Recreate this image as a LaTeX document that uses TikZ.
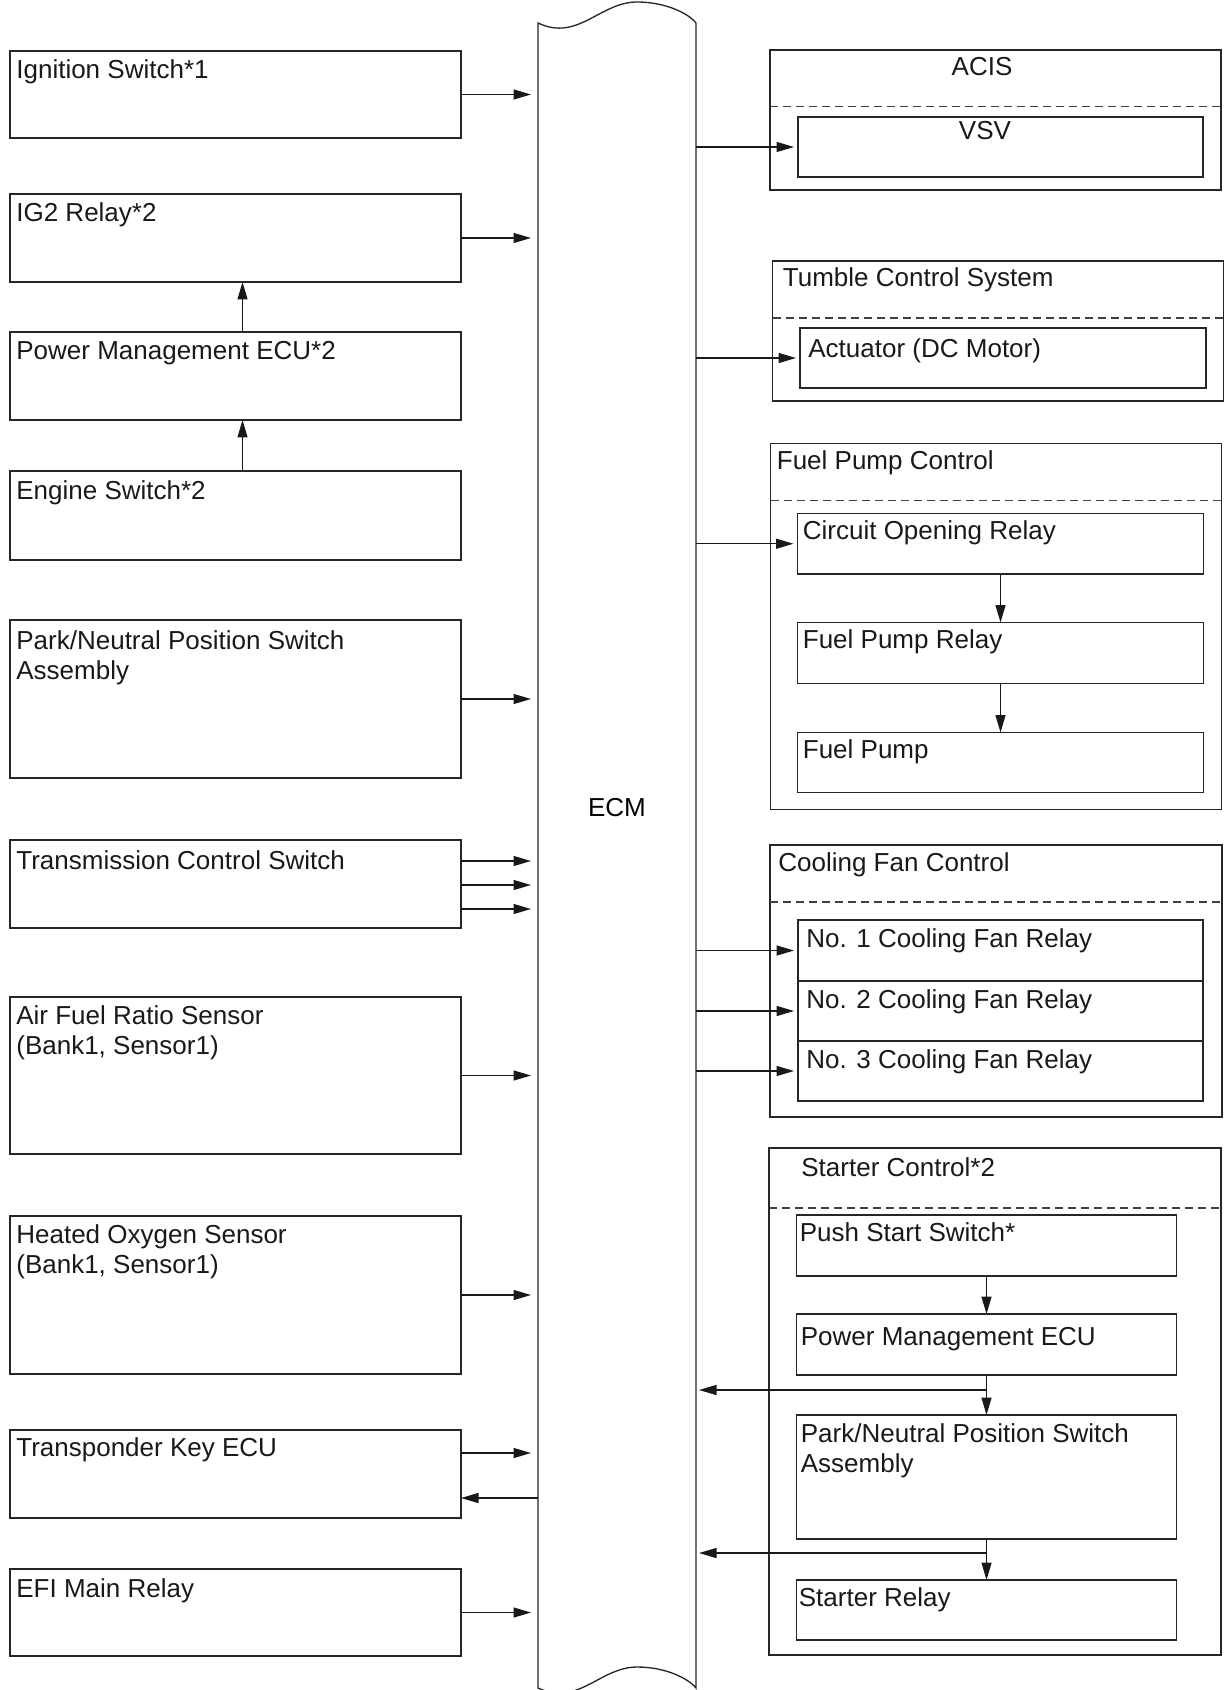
\documentclass[tikz,border=0pt]{standalone}
\usepackage{fontspec}
\setmainfont{Liberation Sans}
\usetikzlibrary{arrows.meta}

\begin{document}
\begin{tikzpicture}[x=0.2mm, y=-0.2mm,
    font=\fontsize{14.8}{17.1}\selectfont,
    block/.style 2 args={draw=black!85, line width=0.75pt, anchor=north west,
      inner sep=0pt, outer sep=0pt, minimum width=#1*0.2mm, minimum height=#2*0.2mm},
    txt/.style={anchor=north west, inner sep=0pt, align=left, text=black!90},
    sep line/.style={draw=black!75, line width=0.75pt, dash pattern=on 1.6mm off 1mm},
    sig/.style={draw=black!90, line width=0.75pt, -{Triangle[length=3.5mm, width=2mm]}}]
    \useasboundingbox (0,0) rectangle (1225,1690);

    % ECM bus
    \node[inner sep=0pt, outer sep=0pt, anchor=north west, minimum width=158*0.2mm,
      minimum height=1665*0.2mm] (ecm) at (538,23) {};
    \draw[draw=black!85, line width=0.75pt] (ecm.north west)
      .. controls (578,42) and (600,2) .. (637,2)
      .. controls (665,2) and (688,13) .. (ecm.north east) -- (ecm.south east)
      .. controls (688,1678) and (665,1667) .. (637,1667)
      .. controls (600,1667) and (578,1707) .. (ecm.south west) -- cycle;
    \node (ecm-t) at (617,808) {ECM};

    % inputs
    \node[block={451}{87}] (ign) at (10,51) {};
    \node[block={451}{88}] (ig2) at (10,194) {};
    \node[block={451}{88}] (pm) at (10,332) {};
    \node[block={451}{89}] (eng) at (10,471) {};
    \node[block={451}{158}] (pnp) at (10,620) {};
    \node[block={451}{88}] (tcs) at (10,840) {};
    \node[block={451}{157}] (afr) at (10,997) {};
    \node[block={451}{158}] (hos) at (10,1216) {};
    \node[block={451}{88}] (tke) at (10,1430) {};
    \node[block={451}{87}] (efi) at (10,1569) {};

    \node[txt] (ign-t) at ([shift={(6,8)}]ign.north west) {Ignition Switch*1};
    \node[txt] (ig2-t) at ([shift={(6,8)}]ig2.north west) {IG2 Relay*2};
    \node[txt] (pm-t) at ([shift={(6,9)}]pm.north west) {Power Management ECU*2};
    \node[txt] (eng-t) at ([shift={(6,9)}]eng.north west) {Engine Switch*2};
    \node[txt] (pnp-t) at ([shift={(6,10)}]pnp.north west) {Park/Neutral Position Switch\\Assembly};
    \node[txt] (tcs-t) at ([shift={(6,10)}]tcs.north west) {Transmission Control Switch};
    \node[txt] (afr-t) at ([shift={(6,8)}]afr.north west) {Air Fuel Ratio Sensor\\(Bank1, Sensor1)};
    \node[txt] (hos-t) at ([shift={(6,8)}]hos.north west) {Heated Oxygen Sensor\\(Bank1, Sensor1)};
    \node[txt] (tke-t) at ([shift={(6,7)}]tke.north west) {Transponder Key ECU};
    \node[txt] (efi-t) at ([shift={(6,9)}]efi.north west) {EFI Main Relay};

    % outputs
    \node[block={451}{140}] (acis) at (770,50) {};
    \node[block={405}{60}] (vsv) at (798,117) {};
    \node[block={451}{140}] (tumble) at (772.5,261) {};
    \node[block={406}{60}] (act) at (800,328) {};
    \node[block={451}{366}] (fpc) at (770.5,443.5) {};
    \node[block={406}{60.5}] (cor) at (797.5,513.5) {};
    \node[block={406}{61}] (fpr) at (797.5,622.5) {};
    \node[block={406}{60}] (fp) at (797.5,732.5) {};
    \node[block={452}{272}] (cfc) at (770,845) {};
    \node[block={405}{61}] (cf1) at (798,920) {};
    \node[block={405}{60}] (cf2) at (798,981) {};
    \node[block={405}{60}] (cf3) at (798,1041) {};
    \node[block={452}{507}] (stc) at (769,1148) {};
    \node[block={380}{61}] (pss) at (796.5,1215) {};
    \node[block={380}{61}] (pme) at (796.5,1314) {};
    \node[block={380}{124}] (pnp2) at (796.5,1415) {};
    \node[block={380}{60}] (sr) at (796.5,1580) {};

    \draw[sep line] ([shift={(0,56.5)}]acis.north west) -- ([shift={(0,56.5)}]acis.north east);
    \draw[sep line] ([shift={(0,57)}]tumble.north west) -- ([shift={(0,57)}]tumble.north east);
    \draw[sep line] ([shift={(0,57)}]fpc.north west) -- ([shift={(0,57)}]fpc.north east);
    \draw[sep line] ([shift={(0,57)}]cfc.north west) -- ([shift={(0,57)}]cfc.north east);
    \draw[sep line] ([shift={(0,60)}]stc.north west) -- ([shift={(0,60)}]stc.north east);

    \node[txt, anchor=north] (acis-t) at ([shift={(-13.5,7)}]acis.north) {ACIS};
    \node[txt, anchor=north] (vsv-t) at ([shift={(-15.5,3.5)}]vsv.north) {VSV};
    \node[txt] (tumble-t) at ([shift={(10,6)}]tumble.north west) {Tumble Control System};
    \node[txt] (act-t) at ([shift={(8,10)}]act.north west) {Actuator (DC Motor)};
    \node[txt] (fpc-t) at ([shift={(6,7)}]fpc.north west) {Fuel Pump Control};
    \node[txt] (cor-t) at ([shift={(5,7)}]cor.north west) {Circuit Opening Relay};
    \node[txt] (fpr-t) at ([shift={(5,7)}]fpr.north west) {Fuel Pump Relay};
    \node[txt] (fp-t) at ([shift={(5,7)}]fp.north west) {Fuel Pump};
    \node[txt] (cfc-t) at ([shift={(8,7)}]cfc.north west) {Cooling Fan Control};
    \node[txt] (cf1-t) at ([shift={(8,8)}]cf1.north west) {No. 1 Cooling Fan Relay};
    \node[txt] (cf2-t) at ([shift={(8,8)}]cf2.north west) {No. 2 Cooling Fan Relay};
    \node[txt] (cf3-t) at ([shift={(8,8)}]cf3.north west) {No. 3 Cooling Fan Relay};
    \node[txt] (stc-t) at ([shift={(32,9)}]stc.north west) {Starter Control*2};
    \node[txt] (pss-t) at ([shift={(3,7.5)}]pss.north west) {Push Start Switch*};
    \node[txt] (pme-t) at ([shift={(4,12.5)}]pme.north west) {Power Management ECU};
    \node[txt] (pnp2-t) at ([shift={(4,8)}]pnp2.north west) {Park/Neutral Position Switch\\Assembly};
    \node[txt] (sr-t) at ([shift={(2,7.5)}]sr.north west) {Starter Relay};

    % signals into the ECM
    \foreach \n in {ign,ig2,pnp,afr,hos,efi}
      \draw[sig, shorten >=1.4mm] (\n.east) -- (\n.east -| ecm.west);
    \foreach \d in {-23,1,25}
      \draw[sig, shorten >=1.4mm] (tcs.east) ++(0,\d) coordinate (p) -- (p -| ecm.west);
    \draw[sig, shorten >=1.4mm] (tke.east) ++(0,-21) coordinate (p) -- (p -| ecm.west);
    \draw[sig] (tke.east) ++(0,24) coordinate (p) (p -| ecm.west) -- (p);
    \draw[sig] ([shift={(7,0)}]pm.north) -- ([shift={(7,0)}]ig2.south);
    \draw[sig] ([shift={(7,0)}]eng.north) -- ([shift={(7,0)}]pm.south);

    % signals out of the ECM
    \foreach \n in {vsv,act,cor,cf1,cf2,cf3}
      \draw[sig, shorten >=0.8mm] (\n.west -| ecm.east) -- (\n.west);
    \draw[sig] (cor.south) -- (fpr.north);
    \draw[sig] (fpr.south) -- (fp.north);
    \draw[sig] (pss.south) -- (pme.north);
    \draw[sig] (pme.south) -- (pnp2.north);
    \draw[sig] (pnp2.south) -- (sr.north);
    \draw[sig, shorten >=0.6mm] (pme.south) ++(0,15) coordinate (b1) -- (b1 -| ecm.east);
    \draw[sig, shorten >=0.6mm] (pnp2.south) ++(0,14) coordinate (b2) -- (b2 -| ecm.east);
\end{tikzpicture}
\end{document}
